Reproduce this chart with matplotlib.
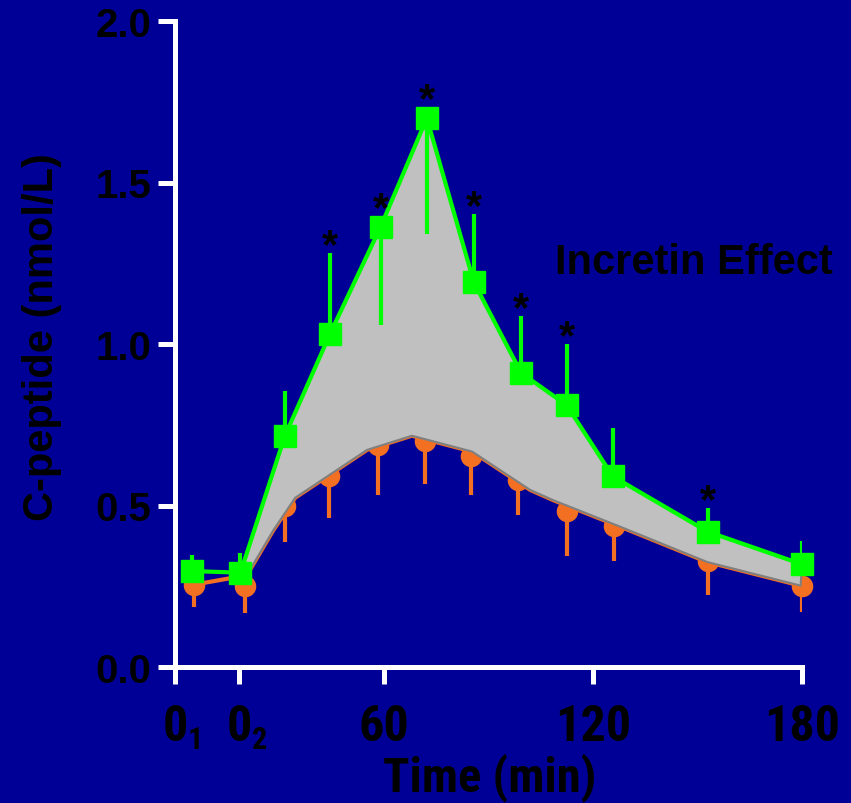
import matplotlib
matplotlib.use("Agg")
import matplotlib.pyplot as plt
import matplotlib.font_manager as fm
from matplotlib.font_manager import FontProperties
import numpy as np

# ---------------- data ----------------
tick_pos = [0, 18.4, 60, 120, 180]
tick_main = ["0", "0", "60", "120", "180"]
tick_sub = ["1", "2", "", "", ""]
y_ticks = [0.0, 0.5, 1.0, 1.5, 2.0]
y_labels = ["0.0", "0.5", "1.0", "1.5", "2.0"]

# oral (green squares)
t_green = [4.8, 18.8, 31.5, 44.5, 59.0, 72.3, 85.8, 99.4, 112.4, 125.7, 152.9, 180.0]
v_green = [0.297, 0.292, 0.714, 1.031, 1.362, 1.699, 1.191, 0.910, 0.811, 0.590, 0.419, 0.318]
err_green_up = [0.051, 0.062, 0.141, 0.252, 0.0, 0.0, 0.213, 0.177, 0.189, 0.149, 0.072, 0.073]
err_green_down = [0.0, 0.0, 0.0, 0.0, 0.303, 0.357, 0.0, 0.0, 0.0, 0.0, 0.0, 0.0]
signif = [False, False, False, True, True, True, True, True, True, False, True, False]

# iv (orange circles)
t_orange = [5.5, 20.1, 31.6, 44.3, 58.3, 71.8, 85.0, 98.6, 112.4, 126.1, 152.9, 180.0]
v_orange = [0.255, 0.252, 0.497, 0.590, 0.686, 0.699, 0.652, 0.578, 0.484, 0.435, 0.329, 0.252]
err_orange_down = [0.069, 0.084, 0.109, 0.130, 0.152, 0.131, 0.118, 0.106, 0.139, 0.106, 0.105, 0.081]

# lower boundary of the shaded "incretin effect" area
t_low = [20.6, 28.2, 34.5, 55.1, 68.0, 85.3, 102.0, 108.7, 127.9, 152.8, 179.6]
v_low = [0.284, 0.423, 0.524, 0.672, 0.716, 0.667, 0.548, 0.516, 0.434, 0.325, 0.252]

label_text = "Incretin Effect"
x_title = "Time (min)"
y_title = "C-peptide (nmol/L)"

# ---------------- fonts ----------------
names = {f.name for f in fm.fontManager.ttflist}
sans = "Liberation Sans" if "Liberation Sans" in names else "DejaVu Sans"


def find_narrow_bold():
    prefs = ["LiberationSansNarrow-Bold", "ArialNarrow-Bold", "Arial Narrow Bold",
             "RobotoCondensed-Bold", "OpenSans_Condensed-Bold", "OpenSansCondensed-Bold",
             "NotoSans-CondensedBold", "NotoSansCondensed-Bold", "DejaVuSansCondensed-Bold"]
    files = [f.fname for f in fm.fontManager.ttflist]
    for p in prefs:
        for fn in files:
            if p.lower() in fn.lower().replace(" ", "").replace("_", "") or p.lower() in fn.lower():
                return fn, True
    for f in fm.fontManager.ttflist:
        low = f.fname.lower()
        if ("narrow" in low or "condensed" in low) and ("bold" in low) and "extra" not in low \
                and "semi" not in low and "italic" not in low and "oblique" not in low:
            return f.fname, True
    return None, False


narrow_file, have_narrow = find_narrow_bold()


def nprop(size):
    if have_narrow:
        return FontProperties(fname=narrow_file, size=size)
    return FontProperties(family=sans, weight="bold", size=size * 0.8)


BG = "#000096"
GREEN = "#00FF00"
ORANGE = "#F36F21"
GRAY = "#C0C0C0"

fig = plt.figure(figsize=(8.51, 8.04), dpi=100, facecolor=BG)
ax = fig.add_axes([175 / 851, 1 - 668 / 804, (802 - 175) / 851, (668 - 22) / 804])
ax.set_facecolor(BG)
ax.set_xlim(0, 180)
ax.set_ylim(0, 2.0)

for s in ["top", "right"]:
    ax.spines[s].set_visible(False)
for s in ["left", "bottom"]:
    ax.spines[s].set_color("white")
    ax.spines[s].set_linewidth(3.6)
    ax.spines[s].set_capstyle("projecting")

ax.set_yticks(y_ticks)
ax.set_yticklabels(y_labels, family=sans, weight="bold", fontsize=29, color="black")
ax.set_xticks(tick_pos)
ax.set_xticklabels(tick_main, color="black")
for lbl in ax.get_xticklabels():
    lbl.set_fontproperties(nprop(36))
ax.tick_params(axis="y", length=12, width=3.6, color="white", pad=5)
ax.tick_params(axis="x", length=12, width=3.6, color="white", pad=14)

for tp, sub in zip(tick_pos, tick_sub):
    if sub:
        ax.annotate(sub, xy=(tp, 55), xycoords=("data", "figure pixels"),
                    xytext=(9, 0), textcoords="offset points", ha="left",
                    va="baseline", color="black", fontproperties=nprop(22),
                    annotation_clip=False)

# orange series (beneath the shaded area)
ax.vlines(t_orange, np.array(v_orange) - np.array(err_orange_down), v_orange,
          color=ORANGE, lw=3, zorder=2)
ax.plot(t_orange, v_orange, "o", color=ORANGE, ms=14.5, mec=ORANGE, zorder=2,
        clip_on=False)
ax.plot([t_orange[0]] + t_low, [v_orange[0]] + v_low, color=ORANGE, lw=3,
        zorder=2, clip_on=False)

# shaded incretin effect
poly_x = t_green[1:] + t_low[::-1]
poly_y = v_green[1:] + v_low[::-1]
ax.fill(poly_x, poly_y, facecolor=GRAY, edgecolor="#808080", lw=1.5, zorder=3,
        clip_on=False)

# green series
vg = np.array(v_green)
ax.vlines(t_green, vg - np.array(err_green_down), vg + np.array(err_green_up),
          color=GREEN, lw=3, zorder=4)
ax.plot(t_green, v_green, "-", color=GREEN, lw=3, zorder=4, clip_on=False)
ax.plot(t_green, v_green, "s", color=GREEN, ms=16, mec=GREEN, zorder=5,
        clip_on=False)

# significance asterisks
fs_star = 30
for t, v, eu, sg in zip(t_green, v_green, err_green_up, signif):
    if sg:
        top = max(v + 0.034, v + eu)
        ax.annotate("*", xy=(t, top), xytext=(0, 14.4 - 0.58 * fs_star),
                    textcoords="offset points", ha="center", va="baseline",
                    fontsize=fs_star, family=sans, weight="bold", color="black",
                    zorder=6)

ax.text(0.606, 0.627, label_text, transform=ax.transAxes, ha="left", va="center",
        fontsize=30, family=sans, weight="bold", color="black", clip_on=False)

fig.text(490 / 851, 1 - 778 / 804, x_title, ha="center", va="center",
         color="black", fontproperties=nprop(35))
fig.text(42 / 851, 1 - 337 / 804, y_title, ha="center", va="center",
         rotation=90, fontsize=30, family=sans, weight="bold", color="black")

fig.savefig("out.png", dpi=100, facecolor=BG)
